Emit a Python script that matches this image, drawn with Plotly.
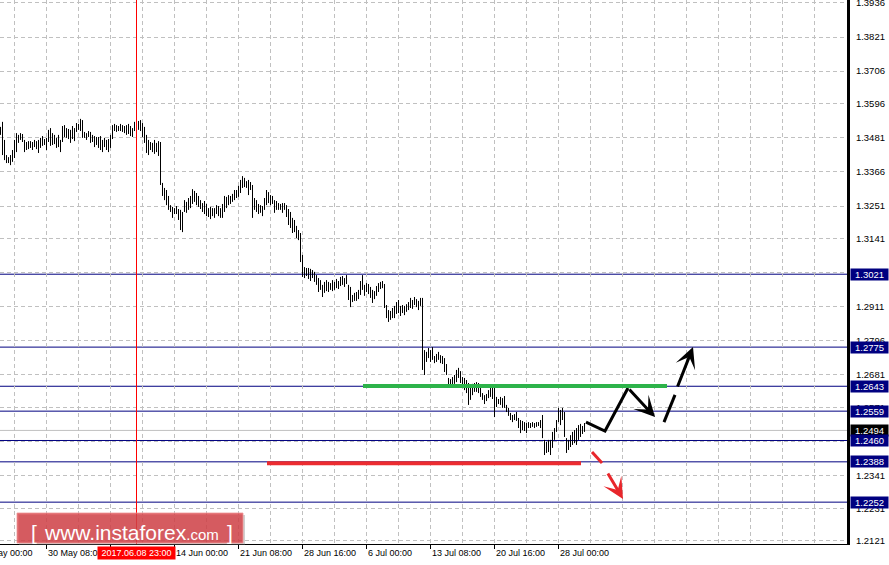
import plotly.graph_objects as go

# ---------------- data (H4 bars) ----------------
highs = [
    1.3518, 1.3535, 1.3474, 1.3423, 1.3416, 1.3423, 1.3440, 1.3474, 1.3497, 1.3491,
    1.3497, 1.3494, 1.3474, 1.3467, 1.3470, 1.3470, 1.3467, 1.3474, 1.3470, 1.3474,
    1.3481, 1.3487, 1.3477, 1.3481, 1.3508, 1.3514, 1.3497, 1.3491, 1.3481, 1.3491,
    1.3474, 1.3521, 1.3524, 1.3514, 1.3511, 1.3508, 1.3521, 1.3514, 1.3531, 1.3528,
    1.3545, 1.3541, 1.3501, 1.3497, 1.3504, 1.3501, 1.3491, 1.3487, 1.3484, 1.3484,
    1.3487, 1.3474, 1.3481, 1.3474, 1.3477, 1.3491, 1.3524, 1.3528, 1.3524, 1.3521,
    1.3528, 1.3524, 1.3521, 1.3524, 1.3528, 1.3521, 1.3514, 1.3535, 1.3524, 1.3538,
    1.3541, 1.3531, 1.3518, 1.3491, 1.3474, 1.3467, 1.3464, 1.3474, 1.3464, 1.3470,
    1.3467, 1.3329, 1.3312, 1.3305, 1.3285, 1.3254, 1.3248, 1.3244, 1.3251, 1.3241,
    1.3238, 1.3231, 1.3271, 1.3265, 1.3278, 1.3285, 1.3308, 1.3302, 1.3295, 1.3285,
    1.3271, 1.3261, 1.3268, 1.3258, 1.3244, 1.3248, 1.3244, 1.3244, 1.3254, 1.3251,
    1.3244, 1.3258, 1.3285, 1.3282, 1.3288, 1.3285, 1.3292, 1.3305, 1.3305, 1.3319,
    1.3339, 1.3352, 1.3346, 1.3335, 1.3339, 1.3332, 1.3322, 1.3278, 1.3271, 1.3258,
    1.3254, 1.3251, 1.3278, 1.3305, 1.3298, 1.3288, 1.3285, 1.3271, 1.3268, 1.3261,
    1.3258, 1.3261, 1.3261, 1.3254, 1.3241, 1.3231, 1.3211, 1.3204, 1.3184, 1.3170,
    1.3160, 1.3086, 1.3045, 1.3042, 1.3042, 1.3039, 1.3035, 1.3029, 1.3018, 1.3008,
    1.3001, 1.2985, 1.2995, 1.3001, 1.2995, 1.2991, 1.3001, 1.2995, 1.3005, 1.2998,
    1.3012, 1.3015, 1.3008, 1.3018, 1.2985, 1.2978, 1.2951, 1.2958, 1.2961, 1.2968,
    1.2998, 1.3018, 1.2985, 1.2991, 1.2988, 1.2978, 1.2968, 1.2964, 1.2981, 1.2991,
    1.2995, 1.2998, 1.2988, 1.2917, 1.2900, 1.2897, 1.2907, 1.2914, 1.2927, 1.2934,
    1.2914, 1.2917, 1.2914, 1.2920, 1.2927, 1.2941, 1.2934, 1.2944, 1.2937, 1.2931,
    1.2941, 1.2941, 1.2765, 1.2759, 1.2772, 1.2765, 1.2775, 1.2745, 1.2752, 1.2759,
    1.2748, 1.2745, 1.2738, 1.2718, 1.2671, 1.2667, 1.2674, 1.2681, 1.2698, 1.2705,
    1.2694, 1.2674, 1.2671, 1.2664, 1.2654, 1.2647, 1.2651, 1.2654, 1.2657, 1.2654,
    1.2637, 1.2620, 1.2613, 1.2617, 1.2630, 1.2640, 1.2644, 1.2637, 1.2607, 1.2600,
    1.2607, 1.2603, 1.2610, 1.2580, 1.2570, 1.2553, 1.2546, 1.2549, 1.2556, 1.2536,
    1.2529, 1.2526, 1.2522, 1.2519, 1.2522, 1.2519, 1.2522, 1.2519, 1.2522, 1.2522,
    1.2529, 1.2546, 1.2462, 1.2455, 1.2462, 1.2462, 1.2489, 1.2502, 1.2529, 1.2570,
    1.2563, 1.2570, 1.2556, 1.2468, 1.2462, 1.2478, 1.2489, 1.2495, 1.2502, 1.2512,
    1.2516, 1.2509, 1.2519,
]
lows = [
    1.3491, 1.3423, 1.3406, 1.3396, 1.3396, 1.3389, 1.3400, 1.3413, 1.3433, 1.3464,
    1.3474, 1.3467, 1.3433, 1.3440, 1.3443, 1.3447, 1.3440, 1.3450, 1.3443, 1.3430,
    1.3447, 1.3454, 1.3457, 1.3440, 1.3467, 1.3454, 1.3457, 1.3460, 1.3447, 1.3450,
    1.3433, 1.3467, 1.3484, 1.3481, 1.3477, 1.3464, 1.3477, 1.3470, 1.3501, 1.3508,
    1.3504, 1.3481, 1.3481, 1.3474, 1.3484, 1.3464, 1.3467, 1.3450, 1.3457, 1.3447,
    1.3440, 1.3433, 1.3450, 1.3440, 1.3433, 1.3447, 1.3477, 1.3504, 1.3501, 1.3504,
    1.3504, 1.3501, 1.3497, 1.3491, 1.3494, 1.3487, 1.3484, 1.3504, 1.3494, 1.3508,
    1.3504, 1.3484, 1.3464, 1.3430, 1.3423, 1.3440, 1.3433, 1.3427, 1.3433, 1.3420,
    1.3322, 1.3285, 1.3271, 1.3254, 1.3238, 1.3231, 1.3211, 1.3224, 1.3224, 1.3204,
    1.3170, 1.3163, 1.3231, 1.3228, 1.3238, 1.3244, 1.3258, 1.3265, 1.3254, 1.3248,
    1.3241, 1.3231, 1.3224, 1.3217, 1.3214, 1.3207, 1.3217, 1.3211, 1.3224, 1.3217,
    1.3211, 1.3211, 1.3231, 1.3244, 1.3254, 1.3258, 1.3265, 1.3271, 1.3278, 1.3282,
    1.3295, 1.3312, 1.3315, 1.3312, 1.3288, 1.3305, 1.3211, 1.3238, 1.3231, 1.3224,
    1.3228, 1.3217, 1.3238, 1.3254, 1.3261, 1.3254, 1.3258, 1.3228, 1.3238, 1.3238,
    1.3238, 1.3228, 1.3238, 1.3214, 1.3187, 1.3177, 1.3160, 1.3163, 1.3143, 1.3136,
    1.3062, 1.3012, 1.3008, 1.3015, 1.3005, 1.2998, 1.3008, 1.2995, 1.2985, 1.2961,
    1.2968, 1.2944, 1.2958, 1.2964, 1.2961, 1.2968, 1.2964, 1.2968, 1.2974, 1.2971,
    1.2981, 1.2985, 1.2978, 1.2988, 1.2934, 1.2910, 1.2927, 1.2931, 1.2931, 1.2937,
    1.2951, 1.2968, 1.2948, 1.2961, 1.2954, 1.2941, 1.2924, 1.2937, 1.2948, 1.2961,
    1.2971, 1.2974, 1.2907, 1.2873, 1.2860, 1.2867, 1.2873, 1.2873, 1.2887, 1.2890,
    1.2880, 1.2890, 1.2883, 1.2894, 1.2900, 1.2907, 1.2904, 1.2917, 1.2910, 1.2900,
    1.2914, 1.2698, 1.2681, 1.2725, 1.2738, 1.2725, 1.2732, 1.2721, 1.2725, 1.2732,
    1.2721, 1.2718, 1.2691, 1.2681, 1.2644, 1.2647, 1.2644, 1.2651, 1.2657, 1.2671,
    1.2654, 1.2647, 1.2630, 1.2620, 1.2580, 1.2597, 1.2613, 1.2624, 1.2624, 1.2620,
    1.2607, 1.2597, 1.2583, 1.2593, 1.2603, 1.2607, 1.2600, 1.2539, 1.2573, 1.2583,
    1.2580, 1.2570, 1.2570, 1.2556, 1.2543, 1.2529, 1.2522, 1.2529, 1.2526, 1.2502,
    1.2485, 1.2495, 1.2492, 1.2485, 1.2502, 1.2502, 1.2506, 1.2502, 1.2506, 1.2509,
    1.2502, 1.2468, 1.2411, 1.2418, 1.2421, 1.2411, 1.2435, 1.2462, 1.2489, 1.2522,
    1.2512, 1.2529, 1.2472, 1.2418, 1.2428, 1.2438, 1.2445, 1.2451, 1.2445, 1.2462,
    1.2472, 1.2482, 1.2489,
]

time_labels = ["23 May 00:00", "30 May 08:00", "6 Jun 16:00", "14 Jun 00:00", "21 Jun 08:00",
               "28 Jun 16:00", "6 Jul 00:00", "13 Jul 08:00", "20 Jul 16:00", "28 Jul 00:00"]
time_label_bars = [-9, 23, 55, 87, 119, 151, 183, 215, 247, 279]

price_ticks = [1.3936, 1.3821, 1.3706, 1.3596, 1.3481, 1.3366, 1.3251, 1.3141, 1.3026,
               1.2911, 1.2796, 1.2681, 1.2571, 1.2456, 1.2341, 1.2231, 1.2121]
levels = [1.3021, 1.2775, 1.2643, 1.2559, 1.2460, 1.2388, 1.2252]
current_price = 1.2494

marker_bar = 68
marker_label = "2017.06.08 23:00"

green_level, green_from, green_to = 1.2644, 181.25, 333.25
red_level, red_from, red_to = 1.2383, 133.25, 290.25

# forecast drawings: (bar index, price)
up_path = [(292.75, 1.2522), (302.25, 1.2492), (313.75, 1.2637)]
up_arrow = ((313.75, 1.2637), (327.25, 1.2539))
up_dash = [(331.75, 1.2522), (337.25, 1.2614)]
up_dash_arrow = ((338.25, 1.2637), (346.25, 1.2775))
down_dash = [(295.75, 1.2421), (300.75, 1.2384)]
down_dash_arrow = ((303.25, 1.2354), (311.25, 1.2263))

# ---------------- figure ----------------
X0, X1 = -0.25, 423.25
Y0, Y1 = 1.21108, 1.39461
PLOT_W, PLOT_H = 847, 544
FONT = "Liberation Sans, Arial, sans-serif"
NAVY = "#000080"
GRID = "#C0C0C0"

fig = go.Figure()

bx, by = [], []
for i, (h, l) in enumerate(zip(highs, lows)):
    bx += [i, i, None]
    by += [l, h, None]
fig.add_trace(go.Scatter(x=bx, y=by, mode="lines", line=dict(color="black", width=1),
                         hoverinfo="skip", showlegend=False))

fig.add_trace(go.Scatter(x=[p[0] for p in up_path], y=[p[1] for p in up_path], mode="lines",
                         line=dict(color="black", width=3), hoverinfo="skip", showlegend=False))
fig.add_trace(go.Scatter(x=[p[0] for p in up_dash], y=[p[1] for p in up_dash], mode="lines",
                         line=dict(color="black", width=3), hoverinfo="skip", showlegend=False))
fig.add_trace(go.Scatter(x=[p[0] for p in down_dash], y=[p[1] for p in down_dash], mode="lines",
                         line=dict(color="#E8262B", width=3), hoverinfo="skip", showlegend=False))

shapes = []
for lv in levels:
    shapes.append(dict(type="line", xref="paper", x0=0, x1=1, yref="y", y0=lv, y1=lv,
                       line=dict(color=NAVY, width=1), layer="between"))
shapes.append(dict(type="line", xref="paper", x0=0, x1=1, yref="y", y0=current_price, y1=current_price,
                   line=dict(color=GRID, width=1), layer="between"))
shapes.append(dict(type="line", xref="x", x0=marker_bar, x1=marker_bar, yref="paper", y0=0, y1=1,
                   line=dict(color="#FF0000", width=1), layer="above"))
shapes.append(dict(type="line", xref="x", x0=green_from, x1=green_to, yref="y", y0=green_level, y1=green_level,
                   line=dict(color="#2DB34A", width=4), layer="above"))
shapes.append(dict(type="line", xref="x", x0=red_from, x1=red_to, yref="y", y0=red_level, y1=red_level,
                   line=dict(color="#EC2C30", width=4), layer="above"))


def px(x):
    return x / PLOT_W


def py(y):
    return 1 - y / PLOT_H


shapes.append(dict(type="rect", xref="paper", yref="paper", x0=px(19), x1=px(245), y0=py(545), y1=py(515),
                   fillcolor="rgba(120,120,120,0.35)", line=dict(width=0), layer="above"))
shapes.append(dict(type="rect", xref="paper", yref="paper", x0=px(17), x1=px(243), y0=py(543), y1=py(513),
                   fillcolor="rgba(214,61,67,0.8)", line=dict(color="rgba(240,150,150,0.8)", width=1),
                   layer="above"))

annotations = []
for (tail, head), col in [(up_arrow, "black"), (up_dash_arrow, "black"), (down_dash_arrow, "#E8262B")]:
    annotations.append(dict(x=head[0], y=head[1], ax=tail[0], ay=tail[1], xref="x", yref="y",
                            axref="x", ayref="y", text="", showarrow=True, arrowhead=3,
                            arrowsize=1.15, arrowwidth=3, arrowcolor=col, standoff=0))

for b, t in zip(time_label_bars, time_labels):
    if b >= X0:
        annotations.append(dict(x=b, xref="x", y=0, yref="paper", yanchor="top", xanchor="left",
                                xshift=-1, yshift=-2, text=t, showarrow=False,
                                font=dict(family=FONT, size=9, color="black")))
    else:
        annotations.append(dict(x=(b - X0) / (X1 - X0), xref="paper", y=0, yref="paper", yanchor="top",
                                xanchor="left", xshift=-7, yshift=-2, text=t, showarrow=False,
                                font=dict(family=FONT, size=9, color="black")))
annotations.append(dict(x=marker_bar, xref="x", y=0, yref="paper", yanchor="top", xanchor="center",
                        yshift=-2, text=marker_label, showarrow=False, bgcolor="#FF0000",
                        width=77, height=12, borderpad=0,
                        font=dict(family=FONT, size=9, color="white")))

annotations.append(dict(x=1, xref="paper", y=current_price, yref="y", xanchor="left", yanchor="middle",
                        xshift=3, text=f"{current_price:.4f}", showarrow=False, bgcolor="black",
                        width=37, height=11, borderpad=0, font=dict(family=FONT, size=9.5, color="white")))
for lv in levels:
    annotations.append(dict(x=1, xref="paper", y=lv, yref="y", xanchor="left", yanchor="middle",
                            xshift=3, text=f"{lv:.4f}", showarrow=False, bgcolor=NAVY,
                            width=37, height=11, borderpad=0, font=dict(family=FONT, size=9.5, color="white")))

WM_FONT = "Liberation Sans, Arial, sans-serif"
annotations.append(dict(x=px(29), y=py(532), xref="paper", yref="paper", xanchor="left", yanchor="middle",
                        text="[", showarrow=False, font=dict(family=WM_FONT, size=21, color="white")))
annotations.append(dict(x=px(42), y=py(532), xref="paper", yref="paper", xanchor="left", yanchor="middle",
                        text="www.instaforex<span style='font-size:15px'>.com</span>", showarrow=False,
                        font=dict(family=WM_FONT, size=21, color="white")))
annotations.append(dict(x=px(225), y=py(532), xref="paper", yref="paper", xanchor="left", yanchor="middle",
                        text="]", showarrow=False, font=dict(family=WM_FONT, size=21, color="white")))

major_x = [b for b in time_label_bars if b >= 0]
minor_x = [v for v in range(7, 424, 16) if v not in major_x]

fig.update_layout(
    template="none",
    width=889, height=565, autosize=False,
    margin=dict(l=0, r=42, t=0, b=21, pad=0),
    paper_bgcolor="white", plot_bgcolor="white",
    showlegend=False,
    shapes=shapes, annotations=annotations,
    xaxis=dict(range=[X0, X1], tickmode="array", tickvals=major_x, showticklabels=False,
               ticks="outside", ticklen=4, tickcolor="black", tickwidth=1,
               showgrid=True, gridcolor=GRID, griddash="4px,3px", gridwidth=1,
               minor=dict(tickvals=minor_x, showgrid=True, gridcolor=GRID, griddash="4px,3px",
                          gridwidth=1, ticks=""),
               showline=True, linecolor="black", linewidth=1, zeroline=False, fixedrange=True),
    yaxis=dict(range=[Y0, Y1], side="right", tickmode="array", tickvals=price_ticks,
               ticktext=[f"{v:.4f}" for v in price_ticks],
               tickfont=dict(family=FONT, size=9.5, color="black"),
               ticklabeloverflow="allow",
               ticks="outside", ticklen=4, tickcolor="white",
               showgrid=True, gridcolor=GRID, griddash="4px,3px", gridwidth=1,
               showline=True, linecolor="black", linewidth=3, zeroline=False, fixedrange=True),
)

fig.write_html("out.html", config={"displayModeBar": False},
               post_script="document.body.style.margin='0';")
